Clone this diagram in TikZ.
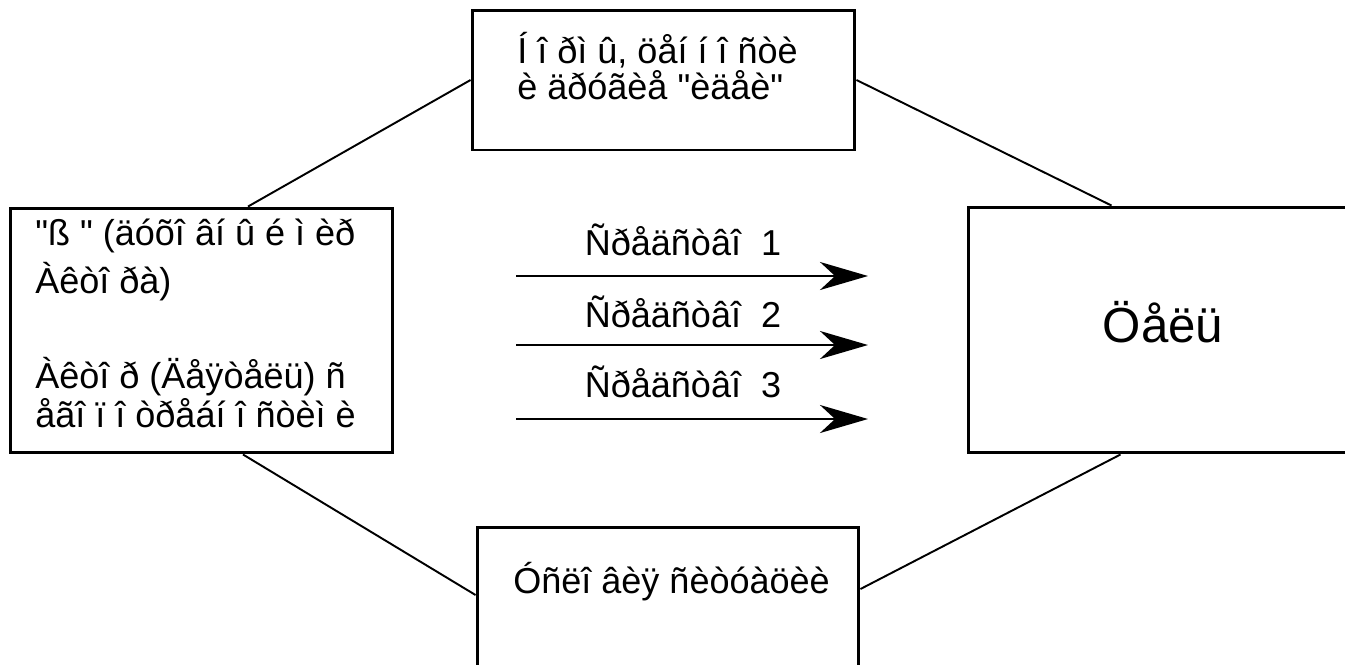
\documentclass[tikz,border=0pt]{standalone}
\usepackage{fontspec}
\setmainfont{Liberation Sans}
\usetikzlibrary{positioning,arrows.meta}

\begin{document}
\begin{tikzpicture}[x=0.02cm, y=-0.02cm,
    box/.style={rectangle, draw, line width=1.7pt, inner sep=0pt},
    boxtext/.style={inner sep=0pt, align=left, anchor=base west, font=\fontsize{20.5}{18.5}\selectfont},
    meanstext/.style={inner sep=0pt, anchor=base, font=\fontsize{20.5}{20}\selectfont},
    link/.style={line width=1.1pt},
    means/.style={line width=1.6pt, -{Stealth[length=0.96cm, width=0.56cm, inset=0.3cm]}}
]
\useasboundingbox (0,0) rectangle (1345,664);

% boxes
\node [box, minimum width=7.66cm, minimum height=2.8cm] (Norms) at (663.5,80) {};
\node [box, minimum width=7.66cm, minimum height=4.9cm] (Actor) at (201.5,330.5) {};
\node [box, minimum width=8.04cm, minimum height=4.92cm] (Goal) at (1169,330) {};
\node [box, minimum width=7.64cm, minimum height=3.06cm] (Terms) at (668,603.5) {};

% texts (base = last line)
\node [boxtext] (NormsText) at (517,99) {Í î ðì û, öåí í î ñòè\\è äðóãèå \textquotedbl èäåè\textquotedbl};
\node [boxtext] (ActorText) at (35,427) {\textquotedbl ß \textquotedbl\ (äóõî âí û é ì èð\\[0.15cm] Àêòî ðà)\\[1.1cm]
    Àêòî ð (Äåÿòåëü) ñ\\åãî ï î òðåáí î ñòèì è};
\node [boxtext] (TermsText) at (513,593) {Óñëî âèÿ ñèòóàöèè};
\node [inner sep=0pt, anchor=base, font=\fontsize{28}{30}\selectfont] (GoalText) at (1163,342) {Öåëü};

% connections
\draw [link] (Norms.west) -- ([xshift=0.93cm]Actor.north);
\draw [link] (Norms.east) -- ([xshift=2.9cm]Goal.north west);
\draw [link] ([xshift=0.83cm]Actor.south) -- ([yshift=0.17cm]Terms.west);
\draw [link] ([yshift=0.29cm]Terms.east) -- ([xshift=3.08cm]Goal.south west);

% means
\foreach \i/\y/\b in {1/276/255, 2/345/327, 3/419/397} {
    \coordinate (M\i-start) at (516,\y);
    \coordinate (M\i-end) at (868,\y);
    \draw [means] (M\i-start) -- (M\i-end);
    \node [meanstext] (M\i-text) at (683,\b) {Ñðåäñòâî~~\i};
}

\end{tikzpicture}
\end{document}
